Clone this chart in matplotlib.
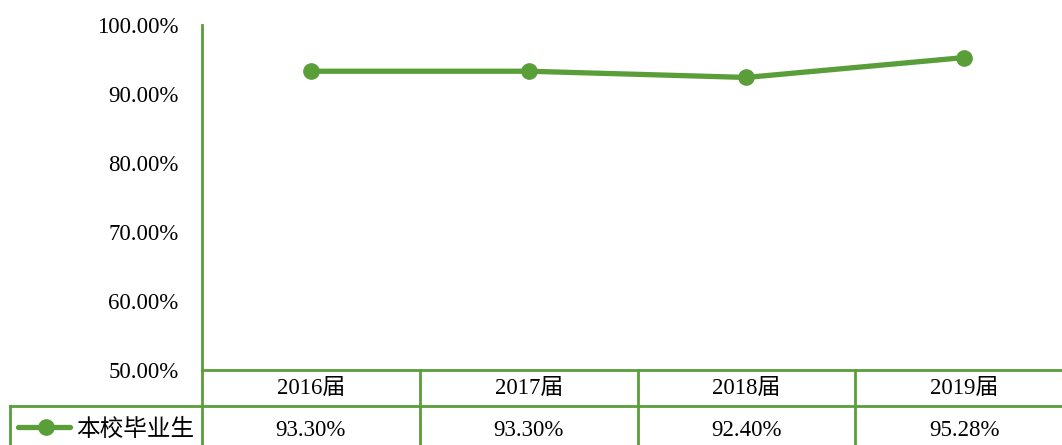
# coding: utf-8

import matplotlib
matplotlib.use('Agg')
from matplotlib import pyplot as plt
from matplotlib import transforms
from matplotlib.lines import Line2D

# データ
years = ['2016届', '2017届', '2018届', '2019届']
rates = [93.30, 93.30, 92.40, 95.28]
series_name = '本校毕业生'
y_ticks = [50, 60, 70, 80, 90, 100]

GREEN = '#5a9e3a'
FONT = ['Liberation Serif', 'Noto Sans CJK SC']
plt.rcParams['font.family'] = FONT


def draw_chart():
    W, H = 1062, 445
    fig = plt.figure(figsize=(W / 100, H / 100), dpi=100)

    # プロット領域 (右端は画像の外まで続く)
    left, right, top, bottom = 202, 1073, 25, 370
    ax = fig.add_axes([left / W, 1 - bottom / H, (right - left) / W, (bottom - top) / H])

    x = list(range(len(years)))
    ax.plot(x, rates, color=GREEN, lw=3.8, marker='o', ms=11, solid_capstyle='round')

    ax.set_xlim(-0.5, len(years) - 0.5)
    ax.set_ylim(50, 100)
    ax.set_yticks(y_ticks)
    ax.set_yticklabels([f'{v:.2f}%' for v in y_ticks], fontsize=16.5)
    ax.tick_params(axis='y', length=0, pad=17)
    ax.set_xticks([])

    lw = 2.0
    for s in ['top', 'right']:
        ax.spines[s].set_visible(False)
    for s in ['left', 'bottom']:
        ax.spines[s].set_color(GREEN)
        ax.spines[s].set_linewidth(lw)

    # 下のデータテーブル
    def fy(py):
        return 1 - py / H

    def fx(px):
        return px / W

    row1, row2 = 406, 460
    fig.add_artist(Line2D([fx(10), fx(W)], [fy(row1), fy(row1)], color=GREEN, lw=lw))
    fig.add_artist(Line2D([fx(10), fx(10)], [fy(row1), fy(row2)], color=GREEN, lw=lw))
    fig.add_artist(Line2D([fx(left), fx(left)], [fy(bottom), fy(row2)], color=GREEN, lw=lw))

    trans = transforms.blended_transform_factory(ax.transData, fig.transFigure)
    for i in range(1, len(years) + 1):
        xb = i - 0.5
        ax.add_line(Line2D([xb, xb], [fy(bottom), fy(row2)], color=GREEN, lw=lw,
                           transform=trans, clip_on=False))

    for i, (yr, v) in enumerate(zip(years, rates)):
        ax.text(i, fy(389), yr, transform=trans, ha='center', va='center',
                fontsize=16.5, family=FONT)
        ax.text(i, fy(431), f'{v:.2f}%', transform=trans, ha='center', va='center',
                fontsize=16.5, family=FONT)

    # 凡例
    fig.add_artist(Line2D([fx(18), fx(70)], [fy(427), fy(427)], color=GREEN, lw=3.8,
                          solid_capstyle='round'))
    fig.add_artist(Line2D([fx(46)], [fy(427)], color=GREEN, marker='o', ms=11, lw=0))
    fig.text(fx(76), fy(429), series_name, ha='left', va='center', fontsize=17,
             family=['Noto Sans CJK SC'])

    fig.savefig('out.png', dpi=100)


def main():
    draw_chart()


if __name__ == "__main__":
    main()
